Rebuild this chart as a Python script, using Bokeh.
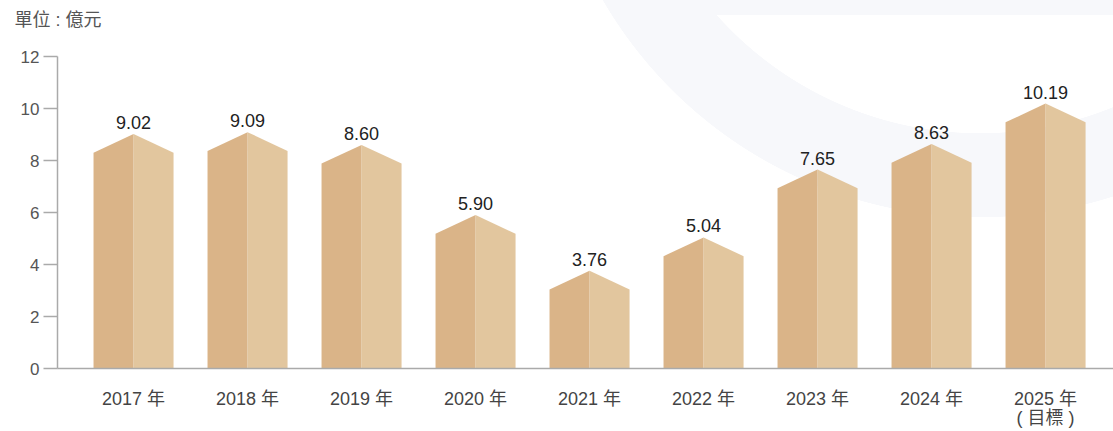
from bokeh.plotting import figure
from bokeh.models import Range1d, FixedTicker, Title, ColumnDataSource
from bokeh.embed import file_html
from bokeh.resources import INLINE
from bokeh.core.properties import value

years = ["2017 年", "2018 年", "2019 年", "2020 年", "2021 年", "2022 年", "2023 年", "2024 年", "2025 年\n( 目標 )"]
amounts = [9.02, 9.09, 8.60, 5.90, 3.76, 5.04, 7.65, 8.63, 10.19]
labels = ["9.02", "9.09", "8.60", "5.90", "3.76", "5.04", "7.65", "8.63", "10.19"]
y_ticks = [0, 2, 4, 6, 8, 10, 12]
unit_text = "單位 : 億元"

HALF = 0.351
SHOULDER = 0.72

idx = list(range(len(amounts)))
left_xs, left_ys, right_xs, right_ys = [], [], [], []
for i, v in zip(idx, amounts):
    left_xs.append([i - HALF, i - HALF, i, i])
    left_ys.append([0, v - SHOULDER, v, 0])
    right_xs.append([i, i, i + HALF, i + HALF])
    right_ys.append([0, v, v - SHOULDER, 0])

ring_bg = (
    "radial-gradient(circle 436px at 980px -219px, rgba(0,0,0,0) 352px, #f7f8fb 352.5px, #f7f8fb 436px, rgba(0,0,0,0) 436.5px), "
    "linear-gradient(#f7f8fb, #f7f8fb) 700px 0px / 500px 15px no-repeat, #ffffff"
)

p = figure(width=1113, height=431, output_backend="svg", toolbar_location=None,
           x_range=Range1d(-0.667, 8.596), y_range=Range1d(0, 12),
           min_border_left=57, min_border_right=0, min_border_top=56, min_border_bottom=63,
           border_fill_color=None, background_fill_color=None, outline_line_color=None,
           styles={"background": ring_bg})

p.patches(left_xs, left_ys, fill_color="#d7ae7e", line_color=None, fill_alpha=0.92)
p.patches(right_xs, right_ys, fill_color="#dfc196", line_color=None, fill_alpha=0.92)

src = ColumnDataSource(dict(x=idx, y=amounts, t=labels))
p.text(x="x", y="y", text="t", source=src, text_align="center", text_baseline="bottom",
       y_offset=-5, text_font_size="18px", text_color="#222222",
       text_font=value("Liberation Sans"))

p.grid.visible = False

xa = p.xaxis[0]
xa.ticker = FixedTicker(ticks=idx)
xa.major_label_overrides = {i: s for i, s in zip(idx, years)}
xa.major_tick_line_color = None
xa.minor_tick_line_color = None
xa.axis_line_color = "#aaaaaa"
xa.axis_line_width = 1.5
xa.major_label_text_font = "Liberation Sans, 'Noto Sans CJK TC'"
xa.major_label_text_font_size = "18px"
xa.major_label_text_line_height = 0.95
xa.major_label_text_color = "#444444"
xa.major_label_standoff = 14

ya = p.yaxis[0]
ya.ticker = FixedTicker(ticks=y_ticks)
ya.minor_tick_line_color = None
ya.major_tick_in = 0
ya.major_tick_out = 14
ya.major_tick_line_color = "#aaaaaa"
ya.major_tick_line_width = 1.5
ya.axis_line_color = "#aaaaaa"
ya.axis_line_width = 1.5
ya.major_label_text_font = "Liberation Sans"
ya.major_label_text_font_size = "17px"
ya.major_label_text_color = "#555555"
ya.major_label_standoff = 4

p.title = Title(text=unit_text + "\n ", align="left", offset=-43, text_font_size="18px",
                text_font_style="normal", text_color="#555555", text_line_height=1.35,
                text_font="Liberation Sans, 'Noto Sans CJK TC'", standoff=0)

open("out.html", "w").write(file_html(p, INLINE))
